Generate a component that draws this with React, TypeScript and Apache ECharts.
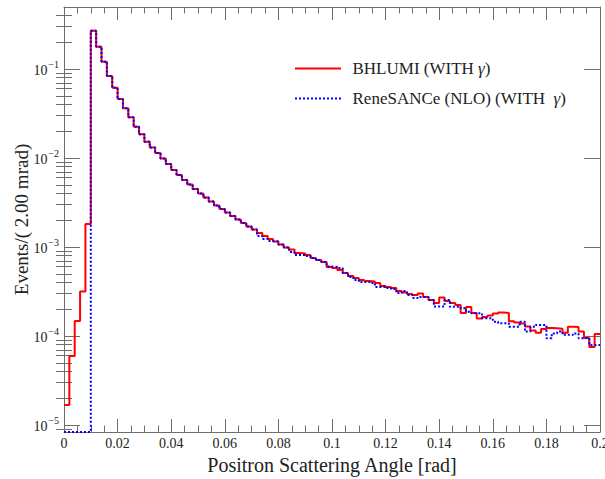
import React, { useEffect, useRef } from "react";
import * as echarts from "echarts";

// Bin lower edges (2.00 mrad bins from 0 to 0.2 rad)
const binLow: number[] = Array.from({ length: 100 }, (_, i) => +(i * 0.002).toFixed(3));
const xMax = 0.2;

const bhlumi: number[] = [
  1.68e-5, 5.96e-5, 1.475e-4, 3.16e-4, 1.81e-3,
  0.269, 0.178, 0.121, 0.0834, 0.0616,
  0.046, 0.0362, 0.0287, 0.0225, 0.01846,
  0.01524, 0.01312, 0.01138, 0.00987, 0.00856,
  0.00733, 0.00644, 0.00566, 0.00504, 0.00448,
  0.00399, 0.0036, 0.00324, 0.00293, 0.00267,
  0.00244, 0.00223, 0.00204, 0.00186, 0.0017,
  0.00157, 0.001437, 0.001329, 0.00123, 0.001153,
  0.001067, 0.000987, 0.000937, 0.000856, 0.000845,
  0.000813, 0.000752, 0.000714, 0.000678, 0.000596,
  0.000581, 0.000552, 0.00051, 0.000472, 0.000448,
  0.000426, 0.000415, 0.00041, 0.000394, 0.000365,
  0.000355, 0.000346, 0.00032, 0.000308, 0.000296,
  0.000289, 0.0003, 0.000274, 0.000254, 0.000235,
  0.000271, 0.000247, 0.000235, 0.000223, 0.000181,
  0.000212, 0.000181, 0.000157, 0.000164, 0.00017,
  0.000179, 0.000184, 0.000181, 0.000146, 0.000142,
  0.000138, 0.000128, 0.000115, 0.000109, 0.00012,
  0.000123, 0.000122, 0.000121, 0.000109, 0.000127,
  0.000126, 0.000112, 0.000095, 0.0000752, 0.000105,
];

const renesance: number[] = [
  0, 0, 0, 0, 0,
  0.269, 0.178, 0.121, 0.0834, 0.0616,
  0.046, 0.0362, 0.0287, 0.0225, 0.01846,
  0.01524, 0.01312, 0.01138, 0.00987, 0.00856,
  0.00733, 0.00644, 0.00566, 0.00504, 0.00448,
  0.00399, 0.0036, 0.00324, 0.00293, 0.00267,
  0.00244, 0.00223, 0.00204, 0.00186, 0.0017,
  0.00157, 0.001329, 0.00123, 0.001168, 0.001153,
  0.001067, 0.000987, 0.000879, 0.000813, 0.000813,
  0.000792, 0.000752, 0.000714, 0.000678, 0.000604,
  0.000596, 0.000581, 0.00051, 0.00046, 0.000426,
  0.000404, 0.000404, 0.000394, 0.000355, 0.000355,
  0.000346, 0.000337, 0.000304, 0.00032, 0.000289,
  0.000267, 0.000274, 0.000274, 0.000254, 0.000215,
  0.000215, 0.000254, 0.000213, 0.000213, 0.000205,
  0.000187, 0.00018, 0.00018, 0.000158, 0.000158,
  0.000145, 0.000139, 0.000139, 0.000127, 0.000127,
  0.000145, 0.000112, 0.000127, 0.000133, 0.000133,
  0.0000942, 0.000107, 0.000112, 0.000103, 0.000103,
  0.000107, 0.0000942, 0.000095, 0.0000792, 0.0000792,
];

const yMajorExp: number[] = [-5, -4, -3, -2, -1];
const yMinorMult: number[] = [2, 3, 4, 5, 6, 7, 8, 9];
const xTickLabels: string[] = ["0", "0.02", "0.04", "0.06", "0.08", "0.1", "0.12", "0.14", "0.16", "0.18", "0.2"];

const NAME_A = "BHLUMI (WITH γ)";
const NAME_B = "ReneSANCe (NLO) (WITH  γ)";

const Y_MIN = -5.0787;
const Y_MAX = -0.3034;

const FONT = "'Liberation Serif', 'DejaVu Serif', serif";
const FRAME = "#6e6e6e";

// legend icons: solid bar and dotted bar
const SOLID_ICON = "path://M0,0h46v2h-46z";
const DOTTED_ICON =
  "path://" + Array.from({ length: 12 }, (_, k) => `M${k * 4},0h2v2h-2z`).join("");

function toLog(v: number): number {
  return v > 0 ? Math.log10(v) : Y_MIN;
}

function stepPoints(vals: number[]): number[][] {
  const pts = binLow.map((x, i) => [x, toLog(vals[i])]);
  pts.push([xMax, toLog(vals[vals.length - 1])]);
  return pts;
}

export default function App() {
  const ref = useRef<HTMLDivElement>(null);

  useEffect(() => {
    if (!ref.current) return;
    document.body.style.margin = "0";
    const chart = echarts.init(ref.current, undefined, { renderer: "svg" });

    const minorVals: number[] = [];
    for (let e = -6; e <= -1; e++) {
      for (const m of yMinorMult) {
        const lv = Math.log10(m) + e;
        if (lv > Y_MIN && lv < Y_MAX - 0.003) minorVals.push(lv);
      }
    }

    const tickStyle = { color: FRAME, width: 1 };
    const yMajorBase = {
      type: "value" as const,
      gridIndex: 0,
      min: Y_MIN,
      max: Y_MAX,
      splitLine: { show: false },
    };

    const option: any = {
      animation: false,
      textStyle: { fontFamily: FONT },
      grid: { left: 64, right: 5, top: 7, bottom: 47, containLabel: false, outerBoundsMode: "none" },
      legend: {
        orient: "vertical",
        left: 295,
        top: 59,
        padding: 0,
        itemWidth: 47,
        itemHeight: 2,
        itemGap: 11,
        selectedMode: false,
        data: [
          { name: NAME_A, icon: SOLID_ICON },
          { name: NAME_B, icon: DOTTED_ICON },
        ],
        formatter: (name: string) =>
          name === NAME_A
            ? "{a|BHLUMI (WITH }{g|γ}{a|)}"
            : "{a|ReneSANCe (NLO) (WITH  }{g|γ}{a|)}",
        textStyle: {
          fontFamily: FONT,
          fontSize: 17,
          color: "#222",
          lineHeight: 19,
          padding: [0, 0, 0, 6],
          rich: {
            a: { fontFamily: FONT, fontSize: 17, color: "#222" },
            g: { fontFamily: FONT, fontSize: 17, fontStyle: "italic", color: "#222" },
          },
        },
      },
      xAxis: [
        {
          type: "value",
          min: 0,
          max: xMax,
          interval: 0.02,
          position: "bottom",
          axisLine: { show: true, onZero: false, lineStyle: tickStyle },
          axisTick: { show: true, inside: true, length: 13, lineStyle: tickStyle },
          minorTick: { show: true, splitNumber: 4, length: 6.5, lineStyle: tickStyle },
          splitLine: { show: false },
          minorSplitLine: { show: false },
          axisLabel: {
            margin: 4,
            fontSize: 14,
            color: "#222",
            fontFamily: FONT,
            showMinLabel: true,
            showMaxLabel: true,
            formatter: (v: number) => xTickLabels[Math.round(v / 0.02)] ?? "",
          },
          name: "Positron Scattering Angle [rad]",
          nameLocation: "middle",
          nameGap: 23,
          nameTextStyle: { fontFamily: FONT, fontSize: 20, color: "#222" },
        },
        {
          type: "value",
          min: 0,
          max: xMax,
          interval: 0.02,
          position: "top",
          axisLine: { show: true, onZero: false, lineStyle: tickStyle },
          axisTick: { show: true, inside: true, length: 13, lineStyle: tickStyle },
          minorTick: { show: true, splitNumber: 4, length: 6.5, lineStyle: tickStyle },
          splitLine: { show: false },
          minorSplitLine: { show: false },
          axisLabel: { show: false },
        },
      ],
      yAxis: [
        {
          ...yMajorBase,
          position: "left",
          axisLine: { show: true, onZero: false, lineStyle: tickStyle },
          axisTick: { show: true, inside: true, length: 16, customValues: yMajorExp, lineStyle: tickStyle },
          axisLabel: {
            customValues: yMajorExp,
            margin: 5,
            color: "#222",
            formatter: (v: number) => `{b|10}{s|−${Math.round(-v)}}`,
            rich: {
              b: { fontFamily: FONT, fontSize: 14, color: "#222", lineHeight: 18, verticalAlign: "bottom" },
              s: { fontFamily: FONT, fontSize: 10, color: "#222", lineHeight: 18, verticalAlign: "top", padding: [0, 0, 0, 1] },
            },
          },
          name: "Events/( 2.00 mrad)",
          nameLocation: "middle",
          nameGap: 33,
          nameMoveOverlap: false,
          nameTextStyle: { fontFamily: FONT, fontSize: 19, color: "#222" },
        },
        {
          ...yMajorBase,
          position: "left",
          axisLine: { show: false },
          axisTick: { show: true, inside: true, length: 8, customValues: minorVals, lineStyle: tickStyle },
          axisLabel: { show: false },
        },
        {
          ...yMajorBase,
          position: "right",
          axisLine: { show: true, onZero: false, lineStyle: tickStyle },
          axisTick: { show: true, inside: true, length: 16, customValues: yMajorExp, lineStyle: tickStyle },
          axisLabel: { show: false },
        },
        {
          ...yMajorBase,
          position: "right",
          axisLine: { show: false },
          axisTick: { show: true, inside: true, length: 8, customValues: minorVals, lineStyle: tickStyle },
          axisLabel: { show: false },
        },
      ],
      series: [
        {
          name: NAME_A,
          type: "line",
          xAxisIndex: 0,
          yAxisIndex: 0,
          step: "end",
          symbol: "none",
          showSymbol: false,
          data: stepPoints(bhlumi),
          lineStyle: { color: "#ff0000", width: 2 },
          itemStyle: { color: "#ff0000" },
          z: 2,
        },
        {
          name: NAME_B,
          type: "line",
          xAxisIndex: 0,
          yAxisIndex: 0,
          step: "end",
          symbol: "none",
          showSymbol: false,
          data: stepPoints(renesance),
          lineStyle: { color: "#0000ff", width: 2, type: [2, 2] },
          itemStyle: { color: "#0000ff" },
          z: 3,
        },
      ],
    };

    chart.setOption(option);
    return () => chart.dispose();
  }, []);

  return (
    <div
      ref={ref}
      style={{ width: 605, height: 479, position: "absolute", left: 0, top: 0 }}
    />
  );
}
